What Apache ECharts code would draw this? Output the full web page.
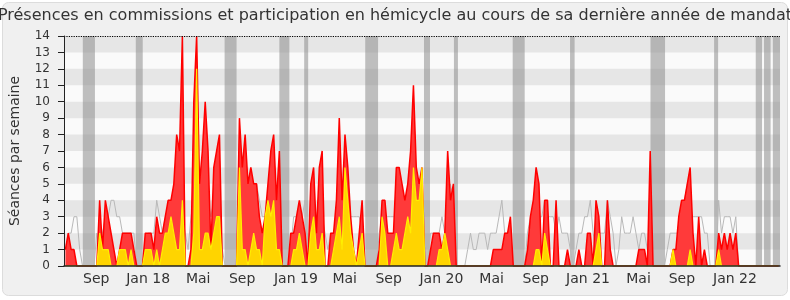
<!DOCTYPE html>
<html><head><meta charset="utf-8">
<script src="https://cdn.jsdelivr.net/npm/echarts@6/dist/echarts.min.js"></script>
<style>html,body{margin:0;padding:0;background:#fff}#c{width:790px;height:300px}</style>
</head><body><div id="c"></div>
<script>
// weekly values (index = week since start of the legislature)
const presencesCommission = [
1,2,1,1,0,0,0,0,0,0,
0,0,4,1,4,3,2,1,0,1,
2,2,2,2,1,0,0,0,2,2,
2,1,3,2,2,3,4,4,5,8,
7,14,0,0,1,10,14,5,7,10,
7,1,6,7,8,0,0,0,0,0,
0,9,6,8,5,6,5,5,3,2,
3,5,7,8,4,7,0,0,0,2,
2,3,4,3,2,0,5,6,2,6,
7,0,0,2,2,4,9,4,8,6,
3,1,0,2,4,0,0,0,0,0,
1,4,4,2,2,2,6,6,5,4,
5,7,11,6,5,6,0,0,1,2,
2,2,1,2,7,4,5,0,0,0,
0,0,0,0,0,0,0,0,0,0,
1,1,1,1,2,2,3,0,0,0,
0,0,1,3,4,6,5,0,4,4,
0,0,4,0,0,0,1,0,0,0,
1,0,0,2,2,0,4,3,0,0,
4,1,0,0,0,0,0,0,0,0,
0,1,1,1,0,7,0,0,0,0,
0,0,0,1,1,3,4,4,5,6,
2,0,3,0,1,0,0,0,0,2,
1,2,1,2,1,2,0,0,0,0,
0,0,0,0,0,0,0,0,0,0,0];
const interventionsCommission = [
0,0,0,0,0,0,0,0,0,0,
0,0,2,1,1,1,0,0,0,1,
1,1,0,1,0,0,0,0,1,1,
1,0,1,0,1,2,2,3,2,1,
1,4,0,0,0,2,12,1,1,2,
2,1,2,3,3,0,0,0,0,0,
0,6,1,1,0,1,2,1,1,0,
3,4,3,4,1,1,0,0,0,0,
1,1,2,1,0,0,2,3,1,1,
2,0,0,0,1,2,3,1,6,4,
2,1,0,1,2,0,0,0,0,0,
0,3,2,0,0,1,2,1,1,2,
3,2,6,4,4,6,0,0,0,0,
0,1,1,2,1,0,0,0,0,0,
0,0,0,0,0,0,0,0,0,0,
0,0,0,0,0,0,0,0,0,0,
0,0,0,0,0,1,1,0,2,1,
0,0,0,0,0,0,0,0,0,0,
0,0,0,0,0,0,1,2,0,0,
0,0,0,0,0,0,0,0,0,0,
0,0,0,0,0,0,0,0,0,0,
0,0,0,1,0,0,0,0,0,1,
0,0,0,0,0,0,0,0,0,1,
0,0,0,0,0,0,0,0,0,0,
0,0,0,0,0,0,0,0,0,0,0];
const medianeDeputes = [
1,2,2,3,3,1,0,0,0,0,
0,2,1,2,3,3,4,4,3,3,
2,2,2,2,2,0,0,0,1,2,
2,2,4,3,2,3,3,4,4,4,
4,3,2,1,3,4,5,5,5,5,
4,3,4,4,4,1,0,0,0,0,
0,3,4,5,5,5,5,5,4,3,
3,3,3,3,3,2,0,0,0,1,
3,3,3,3,4,0,3,4,3,3,
3,2,1,2,2,2,3,4,5,4,
3,3,3,3,2,0,0,0,0,0,
2,3,3,3,3,3,3,4,4,4,
4,4,5,4,4,4,0,0,2,2,
2,2,3,2,3,5,4,0,0,0,
0,1,2,1,1,2,2,2,1,2,
2,2,3,4,2,2,1,0,0,0,
0,0,2,3,3,3,3,3,4,3,
3,3,2,3,2,2,2,1,0,1,
2,2,3,3,4,2,1,2,2,2,
4,3,2,0,1,3,2,2,2,3,
2,1,2,2,1,0,0,0,0,0,
0,1,2,2,2,2,3,4,5,3,
3,3,3,3,2,2,0,0,0,4,
2,3,3,3,2,3,0,0,0,0,
0,0,0,0,0,0,0,0,0,0,0];
// vacation periods, in weeks
const vacances = [[6.6,10.85],[25.17,27.6],[56.3,60.5],[75.5,79],[84.2,85.6],[105.6,110.1],[126.2,128.3],[136.7,138.1],[157.3,161.5],[177.4,179],[205.6,210.7],[227.9,229.3],[242.5,244.7],[245.4,247.7],[248.5,251]];
// month tick labels, in weeks
const xTickWeeks = [11.3,29.5,47.05,62.45,81.3,98.4,113.8,132.3,149.9,165.4,183.7,201.4,216.6,235.2];
const xTickLabels = ['Sep','Jan 18','Mai','Sep','Jan 19','Mai','Sep','Jan 20','Mai','Sep','Jan 21','Mai','Sep','Jan 22'];
const nbWeeks = 251;
const yMax = 14;

const pts = a => a.map((v,i)=>[i+0.5, v]);
const hBands = [];
for (let k = 1; k < yMax; k += 2) hBands.push([{yAxis:k},{yAxis:k+1}]);
const vBands = vacances.map(b => [{xAxis:b[0]},{xAxis:b[1]}]);
const FONT = 'DejaVu Sans';

const chart = echarts.init(document.getElementById('c'), null, {renderer:'canvas'});
chart.setOption({
  animation:false,
  backgroundColor:'#ffffff',
  graphic:[{type:'rect', z:-10, silent:true, shape:{x:2.5,y:2.5,width:785,height:293,r:6}, style:{fill:'#f0f0f0', stroke:'#dcdcdc', lineWidth:1}}],
  title:{text:'Présences en commissions et participation en hémicycle au cours de sa dernière année de mandat', left:'center', top:3, textStyle:{fontFamily:FONT, fontSize:16, fontWeight:'normal', color:'#333'}},
  grid:{left:62, right:10, top:36, bottom:34, show:true, backgroundColor:'#fafafa', borderWidth:0},
  xAxis:{type:'value', min:0, max:nbWeeks, z:10,
    axisLine:{show:true, onZero:false, lineStyle:{color:'#222', width:1.5}},
    axisTick:{show:false}, splitLine:{show:false},
    axisLabel:{customValues:xTickWeeks, fontFamily:FONT, fontSize:14, color:'#333', margin:6,
      formatter:v=>{const i=xTickWeeks.findIndex(t=>Math.abs(t-v)<1e-6); return i>=0?xTickLabels[i]:'';}}},
  yAxis:{type:'value', min:0, max:yMax, interval:1, z:10,
    name:'Séances par semaine', nameLocation:'middle', nameGap:42,
    nameTextStyle:{fontFamily:FONT, fontSize:14, color:'#333'},
    axisLine:{show:true, lineStyle:{color:'#222', width:1}},
    axisTick:{show:true, length:6, lineStyle:{color:'#222'}},
    splitLine:{show:false},
    axisLabel:{fontFamily:FONT, fontSize:12, color:'#333', margin:14}},
  series:[
    {type:'line', z:1, silent:true, data:[[0,0]], showSymbol:false, lineStyle:{opacity:0},
      markArea:{silent:true, itemStyle:{color:'#e6e6e6'}, data:hBands}},
    {type:'line', z:2, silent:true, data:[[0,0]], showSymbol:false, lineStyle:{opacity:0},
      markArea:{silent:true, itemStyle:{color:'rgba(140,140,140,0.55)'}, data:vBands}},
    {name:'Médiane', type:'line', z:3, data:pts(medianeDeputes), showSymbol:false, lineStyle:{color:'#b8b8b8', width:1}},
    {name:'Présences', type:'line', z:4, data:pts(presencesCommission), showSymbol:false,
      lineStyle:{color:'#ff0000', width:1.5}, areaStyle:{color:'#ff3a3a', opacity:1, origin:'start'}},
    {name:'Interventions', type:'line', z:5, data:pts(interventionsCommission), showSymbol:false,
      lineStyle:{color:'#ffee00', width:1.2}, areaStyle:{color:'#ffd400', opacity:1, origin:'start'}},
    {type:'line', z:6, silent:true, data:[[0,0]], showSymbol:false, lineStyle:{opacity:0},
      markLine:{silent:true, symbol:['none','none'], label:{show:false}, lineStyle:{color:'#000', type:'dotted', width:1.2}, data:[{yAxis:yMax}]}}
  ]
});
</script></body></html>
